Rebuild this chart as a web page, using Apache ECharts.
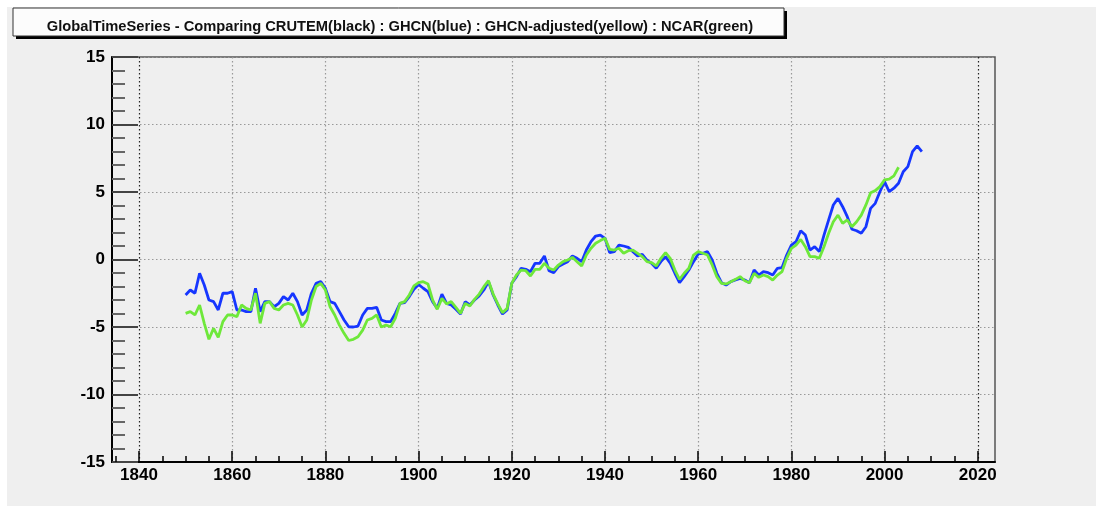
<!DOCTYPE html>
<html>
<head>
<meta charset="utf-8">
<script src="https://cdn.jsdelivr.net/npm/echarts@6/dist/echarts.min.js"></script>
<style>html,body{margin:0;padding:0;background:#fff;}#c{width:1096px;height:506px;}</style>
</head>
<body>
<div id="c"></div>
<script>
const titleText = 'GlobalTimeSeries - Comparing CRUTEM(black) : GHCN(blue) : GHCN-adjusted(yellow) : NCAR(green)';
const xTickLabels = [1840, 1860, 1880, 1900, 1920, 1940, 1960, 1980, 2000, 2020];
const xMinorTicks = [1835, 1845, 1850, 1855, 1865, 1870, 1875, 1885, 1890, 1895, 1905, 1910, 1915,
  1925, 1930, 1935, 1945, 1950, 1955, 1965, 1970, 1975, 1985, 1990, 1995, 2005, 2010, 2015];
const yTickLabels = [-15, -10, -5, 0, 5, 10, 15];

const ghcnStart = 1850;
const ghcnValues = [
  -2.63, -2.26, -2.50, -1.02, -1.89, -3.00, -3.12, -3.74, -2.50, -2.50,
  -2.38, -3.74, -3.74, -3.86, -3.86, -2.14, -3.86, -3.12, -3.12, -3.50,
  -3.25, -2.75, -3.00, -2.50, -3.12, -4.11, -3.74, -2.50, -1.77, -1.64,
  -2.14, -3.12, -3.25, -3.86, -4.48, -4.98, -5.00, -4.93, -4.11, -3.62,
  -3.62, -3.54, -4.48, -4.60, -4.60, -3.99, -3.25, -3.20, -2.75, -2.20,
  -1.85, -2.13, -2.38, -3.12, -3.62, -2.56, -3.25, -3.37, -3.69, -4.04,
  -3.12, -3.37, -3.00, -2.70, -2.26, -1.64, -2.63, -3.37, -4.04, -3.74,
  -1.76, -1.27, -0.65, -0.73, -0.90, -0.28, -0.28, 0.26, -0.83, -0.98,
  -0.53, -0.33, -0.16, 0.26, 0.09, -0.16, 0.70, 1.32, 1.74, 1.81,
  1.57, 0.51, 0.58, 1.07, 1.00, 0.90, 0.58, 0.26, 0.38, -0.04,
  -0.28, -0.65, -0.16, 0.21, -0.28, -1.02, -1.72, -1.27, -0.78, -0.16,
  0.41, 0.46, 0.58, -0.04, -1.02, -1.72, -1.89, -1.64, -1.52, -1.40,
  -1.52, -1.72, -0.78, -1.15, -0.90, -0.98, -1.15, -0.65, -0.60, 0.33,
  1.07, 1.32, 2.13, 1.81, 0.70, 0.95, 0.58, 1.81, 2.93, 4.04,
  4.53, 3.91, 3.17, 2.24, 2.13, 1.94, 2.43, 3.79, 4.16, 5.02,
  5.77, 5.02, 5.28, 5.65, 6.50, 6.88, 7.99, 8.41, 7.99
];

const ncarStart = 1850;
const ncarValues = [
  -3.99, -3.86, -4.11, -3.37, -4.73, -5.91, -5.10, -5.77, -4.60, -4.11,
  -4.11, -4.23, -3.37, -3.62, -3.74, -2.50, -4.73, -3.25, -3.12, -3.62,
  -3.74, -3.37, -3.25, -3.37, -4.11, -5.00, -4.48, -3.00, -2.00, -1.77,
  -2.26, -3.50, -4.11, -4.86, -5.47, -6.00, -5.91, -5.72, -5.23, -4.48,
  -4.36, -4.11, -5.00, -4.86, -4.98, -4.36, -3.25, -3.12, -2.63, -1.96,
  -1.72, -1.64, -1.81, -3.00, -3.69, -2.88, -3.29, -3.12, -3.54, -3.99,
  -3.25, -3.44, -2.95, -2.56, -2.01, -1.57, -2.56, -3.29, -3.94, -3.62,
  -1.76, -1.15, -0.78, -0.83, -1.22, -0.73, -0.73, -0.28, -0.65, -0.78,
  -0.41, -0.16, -0.04, 0.16, -0.16, -0.48, 0.33, 0.83, 1.20, 1.40,
  1.57, 0.75, 0.70, 0.83, 0.46, 0.65, 0.70, 0.46, 0.21, -0.16,
  -0.23, -0.48, 0.09, 0.51, 0.09, -0.78, -1.47, -1.02, -0.65, 0.33,
  0.58, 0.46, 0.33, -0.40, -1.27, -1.77, -1.81, -1.64, -1.47, -1.27,
  -1.57, -1.72, -1.02, -1.32, -1.15, -1.27, -1.52, -1.15, -0.90, 0.09,
  0.83, 1.07, 1.49, 0.95, 0.21, 0.21, 0.09, 0.95, 1.94, 2.80,
  3.29, 2.68, 2.93, 2.43, 2.80, 3.29, 4.04, 4.95, 5.10, 5.40,
  5.90, 5.95, 6.20, 6.83
];

const ghcnData = ghcnValues.map((v, i) => [ghcnStart + i, v]);
const ncarData = ncarValues.map((v, i) => [ncarStart + i, v]);

const chart = echarts.init(document.getElementById('c'), null, {renderer: 'canvas'});
const labelFont = {fontFamily: 'Liberation Sans', fontWeight: 'bold', fontSize: 17, color: '#000'};
const X_MIN = 1834.2, X_MAX = 2023.7;
const xGridColors = xTickLabels.map((v, i) => (i === 0 || i === xTickLabels.length - 1) ? '#222' : '#999');

chart.setOption({
  backgroundColor: '#ffffff',
  animation: false,
  graphic: [
    {type: 'rect', z: -10, silent: true, shape: {x: 7, y: 7, width: 1089, height: 499}, style: {fill: '#efefef'}},
    {type: 'rect', z: 10, silent: true, shape: {x: 16, y: 11, width: 771, height: 28}, style: {fill: '#000'}},
    {type: 'rect', z: 11, silent: true, shape: {x: 13, y: 8, width: 771, height: 28},
     style: {fill: '#fcfcfc', stroke: '#333', lineWidth: 1}}
  ],
  title: {
    text: titleText,
    left: 395,
    top: 14,
    textAlign: 'center',
    z: 20,
    textStyle: {fontFamily: 'Liberation Sans', fontWeight: 'bold', fontSize: 14.7, color: '#111'}
  },
  grid: {left: 112, right: 101, top: 57, bottom: 44, show: true, borderColor: '#555', borderWidth: 1.5, backgroundColor: 'transparent'},
  xAxis: [{
    type: 'value', min: X_MIN, max: X_MAX, position: 'bottom',
    axisLine: {show: true, onZero: false, lineStyle: {color: '#000', width: 2}},
    axisTick: {show: true, inside: true, length: 11, customValues: xTickLabels, lineStyle: {color: '#000', width: 1.5}},
    axisLabel: Object.assign({margin: 5, customValues: xTickLabels, formatter: v => String(v)}, labelFont),
    splitLine: {show: true, lineStyle: {color: xGridColors, type: [1.5, 2.5], width: 1.2}}
  }, {
    type: 'value', min: X_MIN, max: X_MAX, position: 'bottom', offset: 0,
    axisLine: {show: false, onZero: false},
    axisTick: {show: true, inside: true, length: 6, customValues: xMinorTicks, lineStyle: {color: '#000', width: 1.5}},
    axisLabel: {show: false},
    splitLine: {show: false}
  }],
  yAxis: {
    type: 'value', min: -15, max: 15, interval: 5,
    axisLine: {show: true, lineStyle: {color: '#000', width: 2}},
    axisTick: {show: true, inside: true, length: 26, lineStyle: {color: '#444', width: 2}},
    minorTick: {show: true, splitNumber: 5, length: 13, lineStyle: {color: '#666', width: 2}},
    axisLabel: Object.assign({margin: 7, formatter: v => String(v)}, labelFont),
    splitLine: {show: true, showMinLine: false, lineStyle: {color: '#999', type: [1.5, 2.5], width: 1.2}}
  },
  series: [
    {name: 'GHCN', type: 'line', data: ghcnData, showSymbol: false, symbol: 'none', z: 3,
     lineStyle: {color: '#1636ff', width: 2.8}},
    {name: 'NCAR', type: 'line', data: ncarData, showSymbol: false, symbol: 'none', z: 4,
     lineStyle: {color: '#6ee83a', width: 2.8}}
  ]
});
</script>
</body>
</html>
